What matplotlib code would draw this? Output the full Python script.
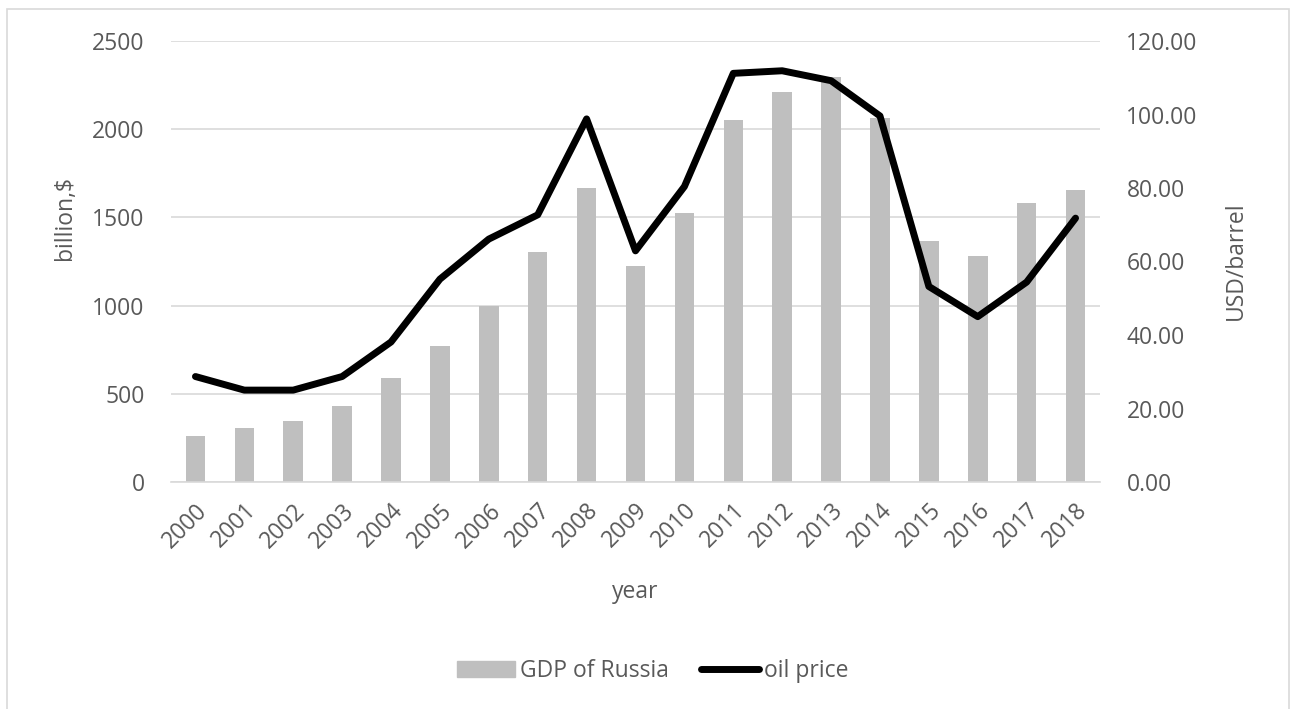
import matplotlib
matplotlib.use("Agg")
import matplotlib.pyplot as plt
from matplotlib.patches import Rectangle
from matplotlib.lines import Line2D
import numpy as np

years = [str(y) for y in range(2000, 2019)]
gdp = [261, 308, 345, 431, 591, 771, 998, 1304, 1667, 1224, 1527, 2052, 2211, 2298, 2062, 1365, 1281, 1580, 1657]
oil = [28.7, 25.0, 25.0, 28.7, 38.1, 55.2, 66.1, 72.7, 98.8, 62.9, 80.4, 111.2, 111.9, 109.2, 99.6, 53.2, 45.0, 54.4, 71.8]
left_ticks = [0, 500, 1000, 1500, 2000, 2500]
right_ticks = [0, 20, 40, 60, 80, 100, 120]

W, H = 1290, 709
plt.rcParams['font.family'] = ['Open Sans', 'DejaVu Sans']
txt = '#595959'
fs = 16.5

fig = plt.figure(figsize=(W / 100, H / 100), dpi=100)
fig.patches.append(Rectangle((7 / W, -0.05), (1289 - 7) / W, 1.05 - 9 / H,
                             transform=fig.transFigure, fill=False,
                             edgecolor='#d9d9d9', linewidth=1.2))

ax = fig.add_axes([171 / W, 1 - 482 / H, (1100 - 171) / W, (482 - 41) / H])
x = np.arange(len(years))
ax.bar(x, gdp, width=0.4, color='#bfbfbf', zorder=2)
ax.set_xlim(-0.5, len(years) - 0.5)
ax.set_ylim(0, 2500)
ax.set_yticks(left_ticks)
ax.set_yticklabels([str(t) for t in left_ticks])
ax.grid(axis='y', color='#d9d9d9', linewidth=1.2, zorder=0)
ax.set_axisbelow(True)
for s in ['top', 'right', 'left']:
    ax.spines[s].set_visible(False)
ax.spines['bottom'].set_color('#d9d9d9')
ax.spines['bottom'].set_linewidth(1.2)
ax.tick_params(axis='both', length=0, colors=txt, labelsize=fs)
ax.tick_params(axis='y', pad=19)
ax.set_xticks(x)
ax.set_xticklabels(years, rotation=45, ha='right', rotation_mode='anchor')
ax.tick_params(axis='x', pad=12)

ax2 = ax.twinx()
ax2.plot(x, oil, color='black', linewidth=5, solid_joinstyle='round',
         solid_capstyle='round', zorder=3)
ax2.set_ylim(0, 120)
ax2.set_yticks(right_ticks)
ax2.set_yticklabels([f"{t:.2f}" for t in right_ticks])
for s in ax2.spines.values():
    s.set_visible(False)
ax2.tick_params(axis='y', length=0, colors=txt, labelsize=fs, pad=19)

fig.text(65 / W, 1 - 218 / H, 'billion,$', rotation=90, ha='center', va='center',
         color=txt, fontsize=fs)
fig.text(1236 / W, 1 - 261 / H, 'USD/barrel', rotation=90, ha='center', va='center',
         color=txt, fontsize=fs)
fig.text(635 / W, 1 - 592 / H, 'year', ha='center', va='center', color=txt, fontsize=fs)

handles = [Rectangle((0, 0), 1, 1, color='#bfbfbf'),
           Line2D([0], [0], color='black', linewidth=5, solid_capstyle='round')]
fig.legend(handles, ['GDP of Russia', 'oil price'], loc='center',
           bbox_to_anchor=(653 / W, 1 - 671 / H), ncol=2, frameon=False,
           fontsize=fs, labelcolor=txt, handlelength=2.5, handletextpad=0.25,
           columnspacing=1.4)

fig.savefig('out.png', dpi=100)
